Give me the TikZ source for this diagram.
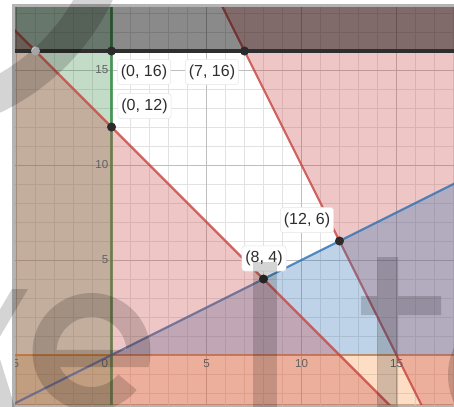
\documentclass[tikz,border=0pt]{standalone}
\usepackage{fontspec}
\setmainfont{Liberation Sans}
\definecolor{dred}{HTML}{C74440}
\definecolor{dblue}{HTML}{2D70B3}
\definecolor{dgreen}{HTML}{388C46}
\definecolor{dorange}{HTML}{FA7E19}
\definecolor{dframe}{HTML}{B4B4B4}
\definecolor{dgridmin}{HTML}{E2E2E2}
\definecolor{dgridmaj}{HTML}{BEBEBE}
\definecolor{dpoint}{HTML}{2B2B2B}
\tikzset{
  shade03/.style={fill opacity=0.3},
  curve/.style={line width=1.6pt, opacity=0.8},
  ticklab/.style={inner sep=0pt, text=black!62, font=\fontsize{8.7pt}{10pt}\selectfont},
  plab/.style={fill=white, draw=black!10, rounded corners=2.25pt, inner xsep=2.6pt, inner ysep=0pt,
               minimum height=19pt, text=black!82, font=\fontsize{12pt}{14pt}\selectfont},
  wm/.style={fill=black, fill opacity=0.17},
}
\begin{document}
\begin{tikzpicture}[x=0.75pt,y=-0.75pt]
\useasboundingbox (0,0) rectangle (454,407);
\fill[white] (0,0) rectangle (454,407);
\fill[dframe] (12,4) rectangle (455,407);
\fill[white] (15,7) rectangle (455,404);
\begin{scope}
\clip (15,7) rectangle (454,404);
\begin{scope}[shift={(111.5,355)},x=14.25pt,y=14.25pt]
  % grid
  \draw[dgridmin, line width=0.75pt] (-6,-3) grid[step=1] (19,19);
  \draw[dgridmaj, line width=0.75pt] (-6,-3) grid[step=5] (19,19);
  % vertices
  \coordinate (A) at (0,16);
  \coordinate (B) at (7,16);
  \coordinate (C) at (0,12);
  \coordinate (D) at (12,6);
  \coordinate (E) at (8,4);
  \coordinate (G) at (-4,16);
  % y <= 0
  \fill[dorange, fill opacity=0.25] (-7,-4) rectangle (20,0);
  \draw[dorange, curve] (-7,0) -- (20,0);
  % x <= 0
  \fill[dgreen, shade03] (-7,-4) rectangle (0,21);
  \draw[dgreen, curve] (0,-4) -- (0,21);
  % 2x + y >= 30
  \fill[dred, shade03] (4.5,21) -- (17,-4) -- (20,-4) -- (20,21) -- cycle;
  \draw[dred, curve] (4.5,21) -- (17,-4);
  % y <= x/2
  \fill[dblue, shade03] (0,0) -- (20,10) -- (20,0) -- cycle;
  \draw[dblue, curve] (-8,-4) -- (20,10);
  % x + y <= 12
  \fill[dred, shade03] (-7,19) -- (16,-4) -- (-7,-4) -- cycle;
  \draw[dred, curve] (-7,19) -- (16,-4);
  % y >= 16
  \fill[black, fill opacity=0.46] (-7,16) rectangle (20,21);
  \draw[black!82, line width=2.3pt] (-7,16) -- (20,16);
  % tick labels
  \node[ticklab, anchor=east] (ty15) at (-0.15,15) {15};
  \node[ticklab, anchor=east] (ty10) at (-0.15,10) {10};
  \node[ticklab, anchor=east] (ty5) at (-0.15,5) {5};
  \node[ticklab, anchor=north east] (tx0) at (-0.17,-0.22) {0};
  \node[ticklab, anchor=north] (tx5) at (5,-0.22) {5};
  \node[ticklab, anchor=north] (tx10) at (10,-0.22) {10};
  \node[ticklab, anchor=north] (tx15) at (15,-0.22) {15};
  \node[ticklab, anchor=north] (txm5) at (-5.03,-0.22) {5};
  % points
  \fill[black!22] (G) circle (3.4pt);
  \foreach \p in {A,B,C,D,E} \fill[dpoint] (\p) circle (3.4pt);
\end{scope}
% point labels
\node[plab] (lA) at (144,72) {(0, 16)};
\node[plab] (lB) at (212,72) {(7, 16)};
\node[plab] (lC) at (144.5,106) {(0, 12)};
\node[plab] (lD) at (307,220) {(12, 6)};
\node[plab] (lE) at (264,258.5) {(8, 4)};
\end{scope}
% watermark
\begin{scope}
\clip (0,0) rectangle (454,407);
\fill[wm, even odd rule] (-100,-100) circle (176.25pt) (-100,-100) circle (150pt);
\fill[wm] (12,289) -- (28,289) -- (-5,345) -- (-21,345) -- cycle;
\fill[wm] (-22,343) -- (-5,343) -- (18,417) -- (1,417) -- cycle;
\begin{scope}[shift={(91.5,352)},x=0.75pt,y=0.75pt]
  \fill[wm, even odd rule]
    (-15:59) arc[start angle=-15, end angle=320, radius=44.25pt]
    -- (320:35) arc[start angle=320, end angle=205.4, radius=26.25pt]
    -- (57,-15) -- cycle
    (3.3:35) arc[start angle=3.3, end angle=176.7, radius=26.25pt] -- cycle;
\end{scope}
\fill[wm] (253,262) rectangle (277,410);
\fill[wm] (377,257) -- (398,257) -- (398,296) -- (441,296) -- (441,315) -- (398,315)
  -- (398,410) -- (377,410) -- (377,315) -- (361,315) -- (361,296) -- (377,296) -- cycle;
\fill[wm] (515,375) circle (50.25pt);
\end{scope}
\end{tikzpicture}
\end{document}
